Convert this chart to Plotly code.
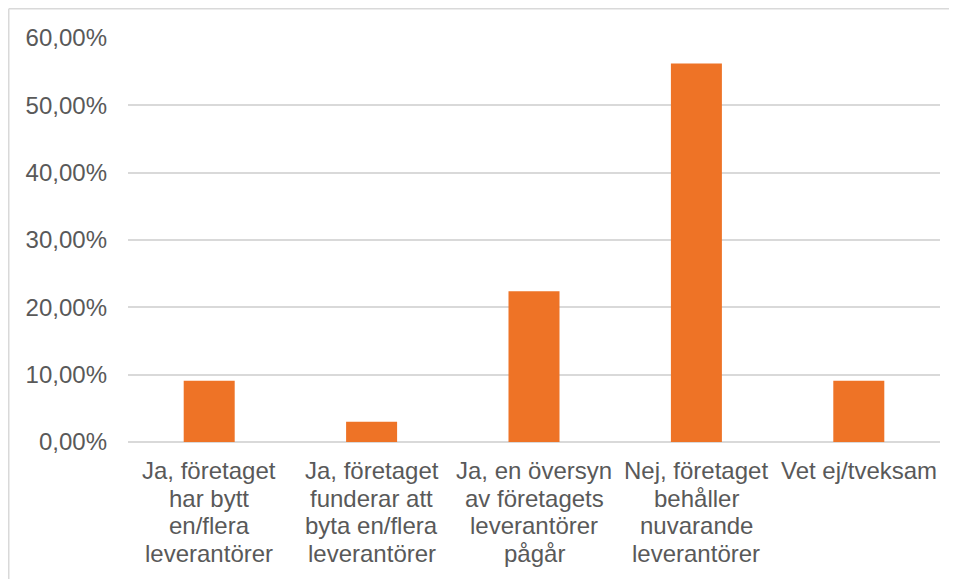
import plotly.graph_objects as go

categories = [
    "Ja, företaget<br>har bytt<br>en/flera<br>leverantörer",
    "Ja, företaget<br>funderar att<br>byta en/flera<br>leverantörer",
    "Ja, en översyn<br>av företagets<br>leverantörer<br>pågår",
    "Nej, företaget<br>behåller<br>nuvarande<br>leverantörer",
    "Vet ej/tveksam",
]
values = [0.091, 0.030, 0.224, 0.562, 0.091]
y_ticks = [0, 0.1, 0.2, 0.3, 0.4, 0.5, 0.6]
y_tick_labels = ["0,00%", "10,00%", "20,00%", "30,00%", "40,00%", "50,00%", "60,00%"]

W, H = 957, 579
ml, mr, mt, mb = 120, 25, 30, 144.5
pw, ph = W - ml - mr, H - mt - mb

fig = go.Figure(go.Bar(
    x=categories, y=values, marker=dict(color="#EE7326", line=dict(width=0)),
))

def px_x(p):
    return (p - ml) / pw

def px_y(p):
    return 1 - (p - mt) / ph

# category labels: one annotation per line for Excel-like line spacing
annotations = []
first_line_center = 463.5
line_step = 27.5
for cat in categories:
    for i, line in enumerate(cat.split("<br>")):
        annotations.append(dict(
            x=cat, xref="x", y=px_y(first_line_center + i * line_step), yref="paper",
            text=line, showarrow=False, xanchor="center", yanchor="middle",
            font=dict(size=24, color="#595959"),
        ))

fig.update_layout(
    width=W, height=H,
    margin=dict(l=ml, r=mr, t=mt, b=mb),
    paper_bgcolor="white", plot_bgcolor="white",
    bargap=0.686,
    showlegend=False,
    font=dict(family="Liberation Sans, Arial, sans-serif", size=24, color="#595959"),
    xaxis=dict(showgrid=False, showline=False, zeroline=False, ticks="",
               showticklabels=False),
    yaxis=dict(range=[0, 0.6], tickvals=y_ticks, ticktext=y_tick_labels,
               showgrid=True, gridcolor="#D9D9D9", gridwidth=1.5,
               zeroline=True, zerolinecolor="#D9D9D9", zerolinewidth=1.5,
               showline=False, ticks="", ticklabelstandoff=20,
               tickfont=dict(size=24, color="#595959")),
    annotations=annotations,
    shapes=[
        dict(type="line", xref="paper", yref="paper",
             x0=px_x(0.75), x1=px_x(W + 5), y0=px_y(0.75), y1=px_y(0.75),
             line=dict(color="#D9D9D9", width=1.5)),
        dict(type="line", xref="paper", yref="paper",
             x0=px_x(0.75), x1=px_x(0.75), y0=px_y(0.75), y1=px_y(H + 5),
             line=dict(color="#D9D9D9", width=1.5)),
    ],
)

fig.write_html("out.html")
